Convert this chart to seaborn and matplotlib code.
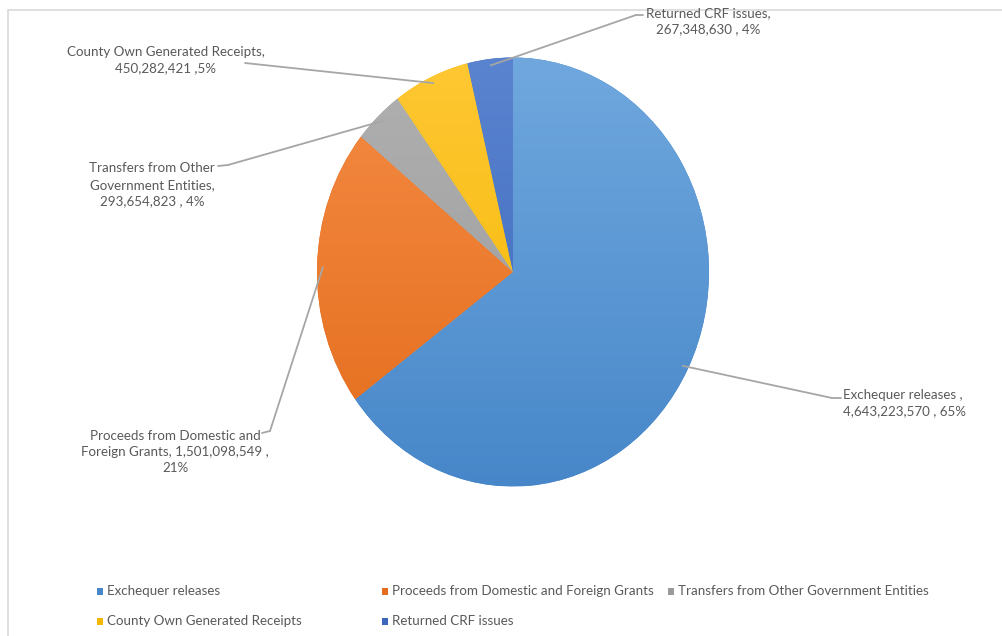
import numpy as np
import matplotlib
matplotlib.use("Agg")
import matplotlib.pyplot as plt
import seaborn as sns
from matplotlib.patches import Rectangle
from matplotlib.colors import LinearSegmentedColormap

sns.set_theme(style="white")
plt.rcParams['font.family'] = ['Lato', 'DejaVu Sans']

categories = ["Exchequer releases", "Proceeds from Domestic and Foreign Grants",
              "Transfers from Other Government Entities", "County Own Generated Receipts",
              "Returned CRF issues"]
values = [4643223570, 1501098549, 293654823, 450282421, 267348630]
label_texts = ["Exchequer releases ,\n4,643,223,570 , 65%",
               "Proceeds from Domestic and\nForeign Grants, 1,501,098,549 ,\n21%",
               "Transfers from Other\nGovernment Entities,\n293,654,823 , 4%",
               "County Own Generated Receipts,\n450,282,421 ,5%",
               "Returned CRF issues,\n267,348,630 , 4%"]

colors_top = ["#70a8de", "#f48c44", "#b0b0b0", "#ffc733", "#5a84cf"]
colors_bot = ["#4787c9", "#e46c1c", "#9a9a9a", "#f2b800", "#3a66bb"]

W, H = 1003, 636
fig = plt.figure(figsize=(W / 100, H / 100), dpi=100)
ax = fig.add_axes([0, 0, 1, 1])

cx, cy, rx, ry = 513, 272, 196, 214.5

wedges, _ = ax.pie(values, startangle=90, counterclock=False,
                   colors=colors_bot, wedgeprops=dict(linewidth=0))
ax.set_aspect('auto')
ax.axis('off')

# vertical gradient fill clipped to each wedge
grad = np.linspace(0, 1, 256).reshape(-1, 1)
for w, ct, cb in zip(wedges, colors_top, colors_bot):
    cmap = LinearSegmentedColormap.from_list("g", [ct, cb])
    im = ax.imshow(grad, extent=(-1, 1, -1, 1), origin='upper', cmap=cmap,
                   aspect='auto', zorder=w.get_zorder() + 0.1, interpolation='bilinear')
    im.set_clip_path(w)
ax.set_xlim(-cx / rx, (W - cx) / rx)
ax.set_ylim(-(H - cy) / ry, cy / ry)

def to_fig(px, py):
    return (px / W, 1 - py / H)

# label layout (pixels): text anchor, leader elbow, hook end, alignment
label_layout = [
    dict(xy=(843, 403), elbow=(832, 398), hook=(841, 398), ha='left'),
    dict(xy=(175, 452), elbow=(270, 431), hook=(262, 433), ha='center'),
    dict(xy=(152, 185), elbow=(228, 165), hook=(218, 166), ha='center'),
    dict(xy=(166, 60), elbow=(245, 63), hook=(245, 63), ha='center'),
    dict(xy=(708, 21), elbow=(636, 15), hook=(643, 15), ha='center'),
]

for w, txt, lay in zip(wedges, label_texts, label_layout):
    ang = np.deg2rad((w.theta1 + w.theta2) / 2)
    sx, sy = np.cos(ang) * 0.97, np.sin(ang) * 0.97
    ex, ey = lay['elbow']
    hx, hy = lay['hook']
    ax.annotate("", xy=(sx, sy), xycoords='data', xytext=to_fig(ex, ey),
                textcoords='figure fraction',
                arrowprops=dict(arrowstyle='-', color='#a6a6a6', lw=1.3,
                                shrinkA=0, shrinkB=0), zorder=5)
    ax.annotate("", xy=to_fig(ex, ey), xycoords='figure fraction',
                xytext=to_fig(hx, hy), textcoords='figure fraction',
                arrowprops=dict(arrowstyle='-', color='#a6a6a6', lw=1.3,
                                shrinkA=0, shrinkB=0), zorder=5)
    tx, ty = to_fig(*lay['xy'])
    fig.text(tx, ty, txt, ha=lay['ha'], va='center', fontsize=9.6,
             color='#595959', linespacing=1.45)

# legend (manual placement, row-major like the reference)
legend_pos = [(97, 591), (382, 591), (668, 591), (97, 621), (382, 621)]
for cat, cb, (px, py) in zip(categories, colors_bot, legend_pos):
    x0, y0 = to_fig(px, py + 3.5)
    fig.patches.append(Rectangle((x0, y0), 6.5 / W, 7 / H, transform=fig.transFigure,
                                 facecolor=cb, edgecolor='none'))
    tx, ty = to_fig(px + 10, py)
    fig.text(tx, ty, cat, ha='left', va='center', fontsize=9.6, color='#595959')

# chart border
fig.patches.append(Rectangle((8 / W, 1 - 645 / H), 1010 / W, 635 / H,
                             transform=fig.transFigure, facecolor='none',
                             edgecolor='#d9d9d9', lw=1.2))

fig.savefig("out.png", dpi=100, facecolor='white')
